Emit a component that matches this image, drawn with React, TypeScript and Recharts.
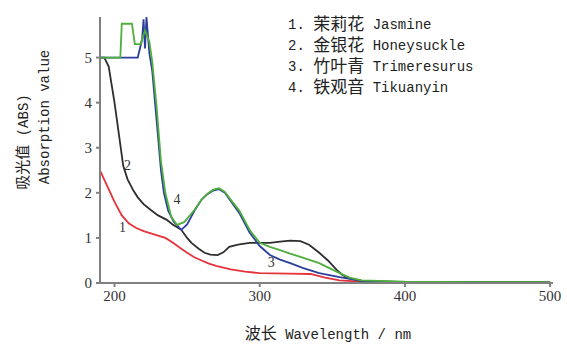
import React from 'react';
import {
  LineChart,
  Line,
  XAxis,
  YAxis,
  ReferenceDot
} from 'recharts';

// wavelength (nm) / absorbance readings for each tea
const jasmineNm = [190, 195, 200, 205, 210, 215, 220, 225, 230, 235, 240, 245, 250, 255, 260, 265, 270, 280, 290, 300, 320, 335, 345, 355, 370, 400, 450, 500];
const jasmineAbs = [2.5, 2.15, 1.8, 1.5, 1.32, 1.22, 1.15, 1.1, 1.05, 1.0, 0.9, 0.78, 0.67, 0.57, 0.5, 0.43, 0.38, 0.3, 0.25, 0.22, 0.21, 0.2, 0.12, 0.06, 0.03, 0.02, 0.02, 0.02];

const honeysuckleNm = [190, 193, 196, 200, 203, 206, 209, 213, 216, 220, 225, 230, 236, 240, 246, 250, 253, 258, 262, 266, 271, 275, 279, 285, 293, 300, 307, 314, 321, 328, 334, 341, 347, 353, 357, 362, 370, 385, 400, 420, 450, 500];
const honeysuckleAbs = [5.0, 5.0, 4.8, 4.0, 3.3, 2.6, 2.3, 2.05, 1.9, 1.75, 1.62, 1.5, 1.4, 1.3, 1.18, 1.0, 0.89, 0.76, 0.67, 0.63, 0.62, 0.68, 0.8, 0.85, 0.89, 0.89, 0.89, 0.92, 0.94, 0.93, 0.85, 0.67, 0.5, 0.29, 0.18, 0.1, 0.05, 0.03, 0.02, 0.02, 0.01, 0.01];

const trimeresurusNm = [190, 216, 219, 220, 221, 222, 223, 224, 226, 229, 232, 234, 237, 241, 246, 250, 255, 260, 264, 268, 272, 276, 280, 286, 293, 300, 307, 314, 321, 330, 341, 355, 370, 400, 450, 500];
const trimeresurusAbs = [5.0, 5.0, 5.4, 5.85, 5.2, 5.9, 5.5, 5.1, 4.7, 3.6, 2.5, 2.0, 1.6, 1.35, 1.18, 1.3, 1.6, 1.85, 1.97, 2.05, 2.08, 2.0, 1.82, 1.55, 1.12, 0.82, 0.62, 0.52, 0.44, 0.33, 0.22, 0.13, 0.05, 0.02, 0.02, 0.02];

const tikuanyinNm = [190, 204, 205, 212, 214, 218, 221, 224, 226, 229, 232, 235, 239, 243, 248, 255, 260, 264, 268, 272, 276, 280, 286, 293, 300, 307, 314, 321, 328, 341, 355, 362, 370, 400, 450, 500];
const tikuanyinAbs = [5.0, 5.0, 5.75, 5.75, 5.3, 5.3, 5.6, 5.35, 4.9, 3.9, 2.7, 2.0, 1.47, 1.29, 1.35, 1.62, 1.85, 1.98, 2.07, 2.1, 2.02, 1.85, 1.6, 1.18, 0.89, 0.8, 0.73, 0.65, 0.58, 0.44, 0.22, 0.12, 0.06, 0.03, 0.02, 0.02];

const legendLines = [
  { num: '1.', cn: '茉莉花', en: 'Jasmine' },
  { num: '2.', cn: '金银花', en: 'Honeysuckle' },
  { num: '3.', cn: '竹叶青', en: 'Trimeresurus' },
  { num: '4.', cn: '铁观音', en: 'Tikuanyin' }
];

const xTicks = [200, 300, 400, 500];
const yTicks = [0, 1, 2, 3, 4, 5];

// curve numbers written on the plot
const curveTags = [
  { nm: 209, abs: 2.62, text: '2' },
  { nm: 205.5, abs: 1.24, text: '1' },
  { nm: 243, abs: 1.87, text: '4' },
  { nm: 308, abs: 0.47, text: '3' }
];

const zip = (xs: number[], ys: number[]) => xs.map((x, i) => ({ nm: x, abs: ys[i] }));

const series = [
  { name: 'Jasmine', data: zip(jasmineNm, jasmineAbs), color: '#e5323b' },
  { name: 'Honeysuckle', data: zip(honeysuckleNm, honeysuckleAbs), color: '#2e2e2e' },
  { name: 'Trimeresurus', data: zip(trimeresurusNm, trimeresurusAbs), color: '#2b3f9c' },
  { name: 'Tikuanyin', data: zip(tikuanyinNm, tikuanyinAbs), color: '#4fae3c' }
];

const serif = '"Liberation Serif", "Noto Sans CJK SC", serif';
const mono = '"Liberation Mono", "Noto Sans CJK SC", monospace';

// legend + axis titles drawn as plain svg text
function Titles() {
  return (
    <g fill="#222" fontFamily={mono} fontSize={14}>
      <text x={328} y={339} textAnchor="middle">
        <tspan fontSize={16}>波长</tspan> Wavelength / nm
      </text>
      <text x={24} y={142} transform="rotate(-90 24 142)" textAnchor="middle" dominantBaseline="central">
        <tspan fontSize={15}>吸光值</tspan> (ABS)
      </text>
      <text x={45} y={117} transform="rotate(-90 45 117)" textAnchor="middle" dominantBaseline="central">
        Absorption value
      </text>
      {legendLines.map((l, i) => (
        <text key={l.num} x={288} y={25 + i * 21} dominantBaseline="central">
          {l.num} <tspan fontSize={17}>{l.cn}</tspan> {l.en}
        </text>
      ))}
    </g>
  );
}

export default function App() {
  return (
    <div style={{ position: 'absolute', left: 0, top: 0, background: '#fff' }}>
      <LineChart width={567} height={349} margin={{ top: 17, right: 14, left: 0, bottom: 0 }}>
        <XAxis
          type="number"
          dataKey="nm"
          domain={[190, 502]}
          ticks={xTicks}
          allowDuplicatedCategory={false}
          height={66}
          stroke="#808080"
          strokeWidth={2}
          tickSize={4}
          tickMargin={3}
          tick={{ fill: '#333', fontSize: 15, fontFamily: serif }}
          label={{ content: () => <Titles /> }}
        />
        <YAxis
          type="number"
          domain={[0, 5.9]}
          ticks={yTicks}
          width={100}
          stroke="#808080"
          strokeWidth={2}
          tickSize={4}
          tickMargin={4}
          tick={{ fill: '#333', fontSize: 15, fontFamily: serif }}
        />
        {series.map((s) => (
          <Line
            key={s.name}
            data={s.data}
            dataKey="abs"
            name={s.name}
            type="linear"
            stroke={s.color}
            strokeWidth={1.8}
            dot={false}
            isAnimationActive={false}
          />
        ))}
        {curveTags.map((t) => (
          <ReferenceDot
            key={t.text + t.nm}
            x={t.nm}
            y={t.abs}
            r={0}
            fill="none"
            stroke="none"
            label={{ value: t.text, position: 'center', fill: '#333', fontSize: 14, fontFamily: serif }}
          />
        ))}
      </LineChart>
    </div>
  );
}
